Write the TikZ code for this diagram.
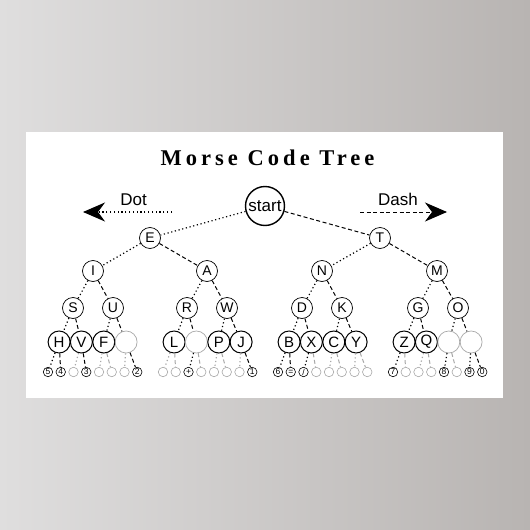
\documentclass[tikz,border=0pt]{standalone}
\usepackage{fontspec}
\setmainfont{Liberation Sans}
\newfontfamily\titlefont[LetterSpace=18]{Liberation Serif}
\usetikzlibrary{arrows.meta}
\definecolor{bgL}{HTML}{DFDEDE}
\definecolor{bgR}{HTML}{B8B4B2}
\definecolor{faint}{HTML}{A8A8A8}
\tikzset{
  lnode/.style={circle,draw,line width=0.7pt,minimum size=21pt,inner sep=0pt,font=\fontsize{14}{14}\selectfont},
  bnode/.style={circle,draw,line width=1pt,minimum size=22pt,inner sep=0pt,font=\fontsize{15}{15}\selectfont},
  enode/.style={bnode,draw=faint,line width=0.7pt},
  leaf/.style={circle,draw,line width=0.6pt,minimum size=9.5pt,inner sep=0pt,font=\fontsize{8.5}{8.5}\selectfont},
  eleaf/.style={leaf,draw=faint},
  dotl/.style={line width=1.2pt,dash pattern=on 1.2pt off 2.6pt},
  dashl/.style={line width=1pt,dash pattern=on 4pt off 2.6pt},
  gdotl/.style={dotl,draw=faint},
  gdashl/.style={dashl,draw=faint},
  bigtip/.style={-{Stealth[length=22pt,width=19pt,inset=7pt]}},
}
\begin{document}
\begin{tikzpicture}[x=1pt,y=-1pt]
\path[use as bounding box] (0,0) rectangle (530,530);
\shade[left color=bgL,right color=bgR] (0,0) rectangle (530,530);
\fill[white] (26,132) rectangle (503,398);

\node[font=\titlefont\bfseries\fontsize{22.5}{23}\selectfont,anchor=base] (title) at (267.5,165) {Morse Code Tree};

\node[circle,draw,line width=1.4pt,minimum size=39pt,inner sep=0pt,font=\fontsize{17}{17}\selectfont] (s) at (265,206) {start};
\node[font=\fontsize{17}{17}\selectfont,anchor=base] (dot) at (133.5,205) {Dot};
\node[font=\fontsize{17}{17}\selectfont,anchor=base] (dash) at (398,205) {Dash};
\coordinate (dotA) at (172,212);
\coordinate (dotB) at (83,212);
\coordinate (dashA) at (360,212);
\coordinate (dashB) at (447,212);
\draw[dotl,bigtip] (dotA) -- (dotB);
\draw[dashl,bigtip] (dashA) -- (dashB);

% level 1-3
\node[lnode] (sl) at (150,238) {E};
\node[lnode] (sr) at (380,238) {T};
\node[lnode] (sll) at (93,271) {I};
\node[lnode] (slr) at (207,271) {A};
\node[lnode] (srl) at (322,271) {N};
\node[lnode] (srr) at (437,271) {M};
\node[lnode] (slll) at (73,308) {S};
\node[lnode] (sllr) at (113,308) {U};
\node[lnode] (slrl) at (187,308) {R};
\node[lnode] (slrr) at (227,308) {W};
\node[lnode] (srll) at (302,308) {D};
\node[lnode] (srlr) at (342,308) {K};
\node[lnode] (srrl) at (418,308) {G};
\node[lnode] (srrr) at (458,308) {O};

% level 4
\node[bnode] (q00) at (59.1,342) {H};
\node[bnode] (q01) at (81.4,342) {V};
\node[bnode] (q02) at (103.8,342) {F};
\node[enode] (q03) at (126.1,342) {};
\node[bnode] (q10) at (174.1,342) {L};
\node[enode] (q11) at (196.4,342) {};
\node[bnode] (q12) at (218.8,342) {P};
\node[bnode] (q13) at (241.1,342) {J};
\node[bnode] (q20) at (289.1,342) {B};
\node[bnode] (q21) at (311.4,342) {X};
\node[bnode] (q22) at (333.8,342) {C};
\node[bnode] (q23) at (356.1,342) {Y};
\node[bnode] (q30) at (404.1,342) {Z};
\node[bnode] (q31) at (426.4,342) {Q};
\node[enode] (q32) at (448.8,342) {};
\node[enode] (q33) at (471.1,342) {};

% level 5
\node[leaf]  (p00) at (48.0,372) {5};
\node[leaf]  (p01) at (60.75,372) {4};
\node[eleaf] (p02) at (73.5,372) {};
\node[leaf]  (p03) at (86.25,372) {3};
\node[eleaf] (p04) at (99.0,372) {};
\node[eleaf] (p05) at (111.75,372) {};
\node[eleaf] (p06) at (124.5,372) {};
\node[leaf]  (p07) at (137.25,372) {2};
\node[eleaf] (p10) at (163.0,372) {};
\node[eleaf] (p11) at (175.75,372) {};
\node[leaf]  (p12) at (188.5,372) {+};
\node[eleaf] (p13) at (201.25,372) {};
\node[eleaf] (p14) at (214.0,372) {};
\node[eleaf] (p15) at (226.75,372) {};
\node[eleaf] (p16) at (239.5,372) {};
\node[leaf]  (p17) at (252.25,372) {1};
\node[leaf]  (p20) at (278.0,372) {6};
\node[leaf]  (p21) at (290.75,372) {=};
\node[leaf]  (p22) at (303.5,372) {/};
\node[eleaf] (p23) at (316.25,372) {};
\node[eleaf] (p24) at (329.0,372) {};
\node[eleaf] (p25) at (341.75,372) {};
\node[eleaf] (p26) at (354.5,372) {};
\node[eleaf] (p27) at (367.25,372) {};
\node[leaf]  (p30) at (393.0,372) {7};
\node[eleaf] (p31) at (405.75,372) {};
\node[eleaf] (p32) at (418.5,372) {};
\node[eleaf] (p33) at (431.25,372) {};
\node[leaf]  (p34) at (444.0,372) {8};
\node[eleaf] (p35) at (456.75,372) {};
\node[leaf]  (p36) at (469.5,372) {9};
\node[leaf]  (p37) at (482.25,372) {0};

% edges levels 0-3
\foreach \a in {s,sl,sr,sll,slr,srl,srr} {
  \draw[dotl] (\a) -- (\a l);
  \draw[dashl] (\a) -- (\a r);
}
% edges level 3-4
\foreach \a/\g/\k/\m in {slll/0/0/1,sllr/0/2/3,slrl/1/0/1,slrr/1/2/3,srll/2/0/1,srlr/2/2/3,srrl/3/0/1,srrr/3/2/3} {
  \draw[dotl] (\a) -- (q\g\k);
  \draw[dashl] (\a) -- (q\g\m);
}
% edges level 4-5
\foreach \q/\p/\st in {
 q00/p00/dotl,q00/p01/dashl,q01/p02/gdotl,q01/p03/dashl,q02/p04/gdotl,q02/p05/gdashl,q03/p06/gdotl,q03/p07/dashl,
 q10/p10/gdotl,q10/p11/gdashl,q11/p12/dotl,q11/p13/gdashl,q12/p14/gdotl,q12/p15/gdashl,q13/p16/gdotl,q13/p17/dashl,
 q20/p20/dotl,q20/p21/dashl,q21/p22/dotl,q21/p23/gdashl,q22/p24/gdotl,q22/p25/gdashl,q23/p26/gdotl,q23/p27/gdashl,
 q30/p30/dotl,q30/p31/gdashl,q31/p32/gdotl,q31/p33/gdashl,q32/p34/dotl,q32/p35/gdashl,q33/p36/dotl,q33/p37/dashl} {
  \draw[\st] (\q) -- (\p);
}
\end{tikzpicture}
\end{document}
